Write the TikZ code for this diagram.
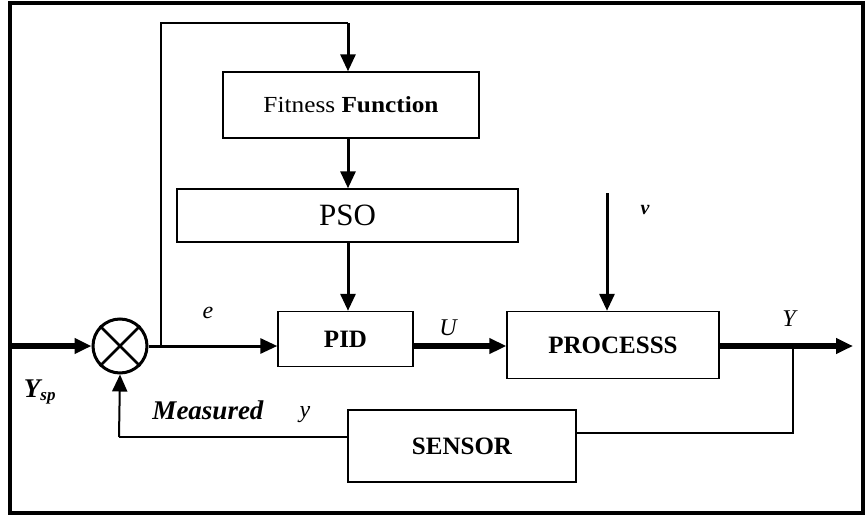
\documentclass[tikz,border=0pt]{standalone}
\usepackage{fontspec}
\setmainfont{Liberation Serif}
\usetikzlibrary{arrows.meta}
\begin{document}
\begin{tikzpicture}[x=1pt,y=-1pt,
  box/.style={draw, line width=1.4pt, inner sep=0pt, fill=white},
  tip/.style={-{Triangle[length=17pt,width=15pt]}},
  thinsig/.style={line width=2pt},
  midsig/.style={line width=3pt},
  fatsig/.style={line width=6pt},
  lbl/.style={font=\fontsize{24}{28}\selectfont\itshape, inner sep=0pt},
  blab/.style={font=\fontsize{25}{29}\selectfont\bfseries}
]
\useasboundingbox (0,0) rectangle (868,517);
% frame
\draw[line width=3.5pt] (10,3) rectangle (863,513);

% blocks
\node[box, minimum width=256pt, minimum height=66pt] (fit) at (351,105)
  {\fontsize{23}{27}\selectfont\scalebox{1.1}[1]{Fitness \textbf{Function}}};
\node[box, minimum width=341pt, minimum height=53pt] (pso) at (347.5,215.5)
  {\fontsize{31}{35}\selectfont PSO};
\node[box, minimum width=135pt, minimum height=55pt, blab] (pid) at (345.5,339) {PID};
\node[box, minimum width=212pt, minimum height=67pt, blab] (proc) at (613,345) {PROCESSS};
\node[box, minimum width=228pt, minimum height=72pt, blab] (sens) at (462,446) {SENSOR};

% summing junction
\node[draw, circle, line width=3pt, minimum size=54pt, inner sep=0pt] (sum) at (120,346) {};
\draw[line width=2.5pt] (sum.north east) -- (sum.south west);
\draw[line width=2.5pt] (sum.north west) -- (sum.south east);

% coordinates
\coordinate (in) at (12,346);
\coordinate (split) at (161,346);
\coordinate (topl) at (161,23);
\coordinate (topr) at (348,23);
\coordinate (vtop) at (607,193);
\coordinate (out) at (853,346);
\coordinate (tap) at (793,346);
\coordinate (tapd) at (793,433);
\coordinate (fbl) at (119,437);

% signals
\draw[fatsig, tip] (in) -- (sum.west);
\draw[midsig, tip] (sum.east) -- (pid.west |- sum.east);
\draw[thinsig] (split) -- (topl) -- (topr);
\draw[midsig, tip] (topr) -- (topr |- fit.north);
\draw[midsig, tip] (fit.south -| topr) -- (pso.north -| topr);
\draw[midsig, tip] (pso.south -| topr) -- (pid.north -| topr);
\draw[midsig, tip] (vtop) -- (vtop |- proc.north);
\draw[fatsig, tip] (pid.east |- sum.east) -- (proc.west |- sum.east);
\draw[fatsig, tip] (proc.east |- sum.east) -- (out);
\draw[thinsig] (tap) -- (tapd) -- (sens.east |- tapd);
\draw[thinsig] (sens.west |- fbl) -- (fbl);
\draw[thinsig, tip] (fbl) -- (sum.south);

% labels
\node[lbl] (le) at (208,313) {e};
\node[lbl] (lu) at (448,328) {U};
\node[lbl] (ly) at (789,319) {Y};
\node[lbl, font=\fontsize{20}{24}\selectfont\bfseries\itshape] (lv) at (645,210) {v};
\node[lbl, font=\fontsize{27}{31}\selectfont\bfseries\itshape] (lysp) at (40,392) {Y\textsubscript{\fontsize{17}{19}\selectfont sp}};
\node[lbl, font=\fontsize{27}{31}\selectfont\bfseries\itshape] (lm) at (208,410) {Measured};
\node[lbl] (lmy) at (305,415) {y};
\end{tikzpicture}
\end{document}
